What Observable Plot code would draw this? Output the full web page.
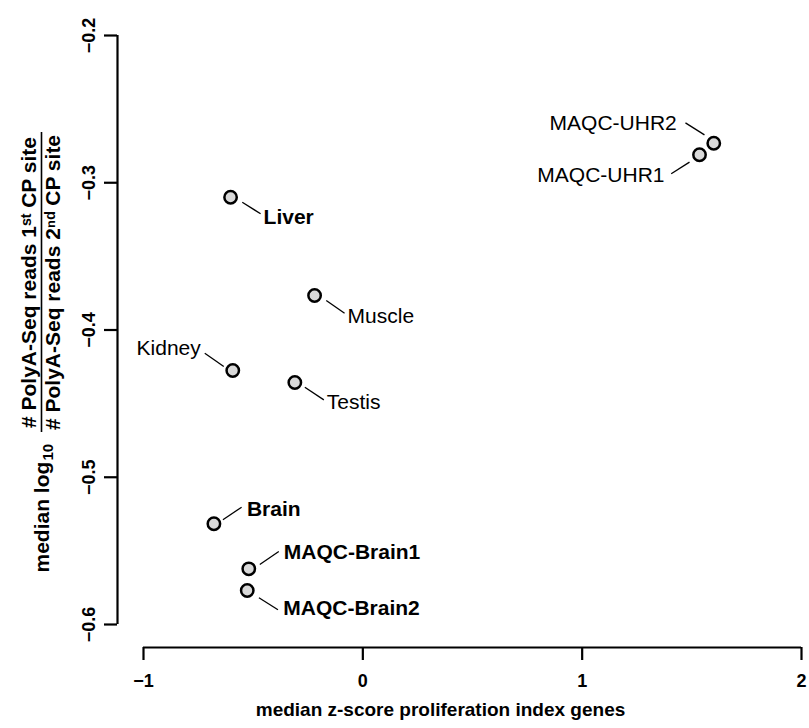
<!DOCTYPE html>
<html><head><meta charset="utf-8">
<script src="https://cdn.jsdelivr.net/npm/d3@7"></script>
<script src="https://cdn.jsdelivr.net/npm/@observablehq/plot@0.6"></script>
<style>body{margin:0;background:#fff}</style>
</head><body><div id="chart"></div>
<script>
// ---- data ----
const samples = ["MAQC-UHR2","MAQC-UHR1","Liver","Muscle","Kidney","Testis","Brain","MAQC-Brain1","MAQC-Brain2"];
const zscore = [1.600, 1.535, -0.603, -0.220, -0.593, -0.310, -0.679, -0.520, -0.527];
const logRatio = [-0.2732, -0.2810, -0.3098, -0.3766, -0.4275, -0.4357, -0.5316, -0.5622, -0.5769];
const boldLabel = [false, false, true, false, false, false, true, true, true];
const xTicks = [-1, 0, 1, 2];
const yTicks = [-0.2, -0.3, -0.4, -0.5, -0.6];
const xTitle = "median z-score proliferation index genes";
const yTitleNum = "# PolyA-Seq reads 1ˢᵗ CP site";
const yTitleDen = "# PolyA-Seq reads 2ⁿᵈ CP site";
const yTitlePre = "median log";
const yTitleSub = "10";

// ---- label layout (pixel offsets from each point) ----
const labelLayout = {
  "MAQC-UHR2":   {tx:-37, ty:-20, anchor:"end",   l:[-28.3,-20.4,-9.3,-8.4]},
  "MAQC-UHR1":   {tx:-35, ty: 20, anchor:"end",   l:[-28.3, 19,-10, 7.4]},
  "Liver":       {tx: 33, ty: 20, anchor:"start", l:[11.7, 5, 30, 16.6]},
  "Muscle":      {tx: 33, ty: 21, anchor:"start", l:[11.7, 5, 30, 17.7]},
  "Kidney":      {tx:-32, ty:-22, anchor:"end",   l:[-28,-17.3,-9,-4]},
  "Testis":      {tx: 32, ty: 20, anchor:"start", l:[10, 4.7, 29, 17.3]},
  "Brain":       {tx: 33, ty:-15, anchor:"start", l:[9,-4, 27.7,-16.6]},
  "MAQC-Brain1": {tx: 35, ty:-17, anchor:"start", l:[11,-4.3, 30,-17.3]},
  "MAQC-Brain2": {tx: 36, ty: 18, anchor:"start", l:[11.7, 7.3, 30.7, 19.3]}
};

const W = 809, H = 728;
const mL = 143, mR = 8, mT = 35, mB = 104;
const xDomain = [-1, 2], yDomain = [-0.6, -0.2];
const kx = (W - mL - mR) / (xDomain[1] - xDomain[0]);
const ky = (H - mT - mB) / (yDomain[1] - yDomain[0]);
const offX = (x, px) => x + px / kx;
const offY = (y, py) => y - py / ky;
const pxToY = (py) => yDomain[1] - (py - mT) / ky;

const rows = samples.map((s, i) => ({name: s, x: zscore[i], y: logRatio[i], bold: boldLabel[i], ...labelLayout[s]}));
const font = "'Liberation Sans', Arial, Helvetica, sans-serif";

// y-title geometry (screen pixels)
const yFs = 21;
const fracTop = 132, fracBot = 432, fracMid = 282;
const medStart = 572;
const medLen = 111;
const yMid = (mT + (H - mB)) / 2;
const frameCx = (mL + (W - mR)) / 2;
const yT = {frameAnchor: "left", text: d => d, rotate: -90, textAnchor: "middle", fontWeight: "bold", fontSize: yFs};

const chart = Plot.plot({
  width: W, height: H,
  marginLeft: mL, marginRight: mR, marginTop: mT, marginBottom: mB,
  x: {domain: xDomain},
  y: {domain: yDomain},
  style: {fontFamily: font, color: "black", background: "white"},
  marks: [
    Plot.ruleX([xDomain[0]], {y1: yDomain[0], y2: yDomain[1], dx: -26, strokeWidth: 2.2}),
    Plot.ruleY([yDomain[0]], {x1: xDomain[0], x2: xDomain[1], dy: 23, strokeWidth: 2.2}),
    Plot.axisX(xTicks, {anchor: "bottom", tickSize: 13, tickPadding: 14, dy: 23, strokeWidth: 2.2,
      fontSize: 18, fontWeight: "bold", tickFormat: d3.format("d"), label: null}),
    Plot.axisY(yTicks, {anchor: "left", tickSize: 13, tickPadding: 10, dx: -26, tickRotate: -90, strokeWidth: 2.2,
      fontSize: 18, fontWeight: "bold", tickFormat: d3.format(".1f"), label: null}),
    Plot.link(rows, {
      x1: d => offX(d.x, d.l[0]), y1: d => offY(d.y, d.l[1]),
      x2: d => offX(d.x, d.l[2]), y2: d => offY(d.y, d.l[3]),
      stroke: "black", strokeWidth: 1.3
    }),
    Plot.dot(rows, {x: "x", y: "y", r: 6.2, fill: "#d9d9d9", stroke: "black", strokeWidth: 2.5}),
    ...rows.map(d => Plot.text([d], {x: "x", y: "y", dx: d.tx, dy: d.ty, text: "name",
      textAnchor: d.anchor, fontWeight: d.bold ? "bold" : "normal", fontSize: 21})),
    Plot.text([xTitle], {frameAnchor: "bottom", text: d => d, dx: 440 - frameCx, dy: 91, fontWeight: "bold", fontSize: 19}),
    Plot.text([yTitleNum], {...yT, dx: 29 - mL, dy: fracMid - yMid}),
    Plot.text([yTitleDen], {...yT, dx: 53 - mL, dy: fracMid - yMid}),
    Plot.ruleX([xDomain[0]], {y1: pxToY(fracTop), y2: pxToY(fracBot), dx: 41 - mL, strokeWidth: 1.6}),
    Plot.text([yTitlePre], {...yT, textAnchor: "start", dx: 42 - mL, dy: medStart - yMid}),
    Plot.text([yTitleSub], {...yT, textAnchor: "start", fontSize: 15, dx: 48 - mL, dy: medStart - medLen - 1 - yMid})
  ]
});
document.getElementById("chart").appendChild(chart);
</script>
</body></html>
